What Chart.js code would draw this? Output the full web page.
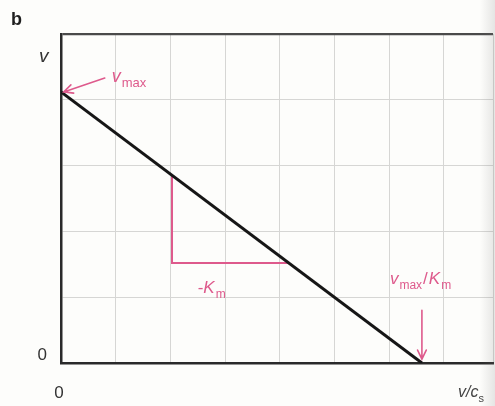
<!DOCTYPE html>
<html>
<head>
<meta charset="utf-8">
<script src="https://cdn.jsdelivr.net/npm/chart.js@4/dist/chart.umd.min.js"></script>
<style>
  html, body { margin: 0; padding: 0; background: #fdfdfb; overflow: hidden; }
  #wrap { position: relative; width: 495px; height: 406px; }
</style>
</head>
<body>
<div id="wrap"><canvas id="c" width="495" height="406"></canvas></div>
<script>
// Eadie–Hofstee plot: v against v/c_s, a straight line from v_max down to v_max/K_m
const vmax = 4.12;          // intercept on the v axis
const vmaxOverKm = 6.6;     // intercept on the v/c_s axis
const lineX = [0, vmaxOverKm];
const lineY = [vmax, 0];

// slope triangle drawn under the line (rise / run = -K_m)
const slopeX = [2.03, 2.03, 4.16];
const slopeY = [2.85, 1.52, 1.52];

// only the origin carries a tick label
const xTickLabels = { 0: '0' };
const yTickLabels = { 0: '0' };

const PINK = '#de5a8c';
const INK = '#2a2a2a';
const FONT = '"Liberation Sans", Arial, sans-serif';

function toPoints(xs, ys) { return xs.map((x, i) => ({ x, y: ys[i] })); }

// draw a run of text pieces; sub pieces are smaller and lowered
function richText(ctx, x, y, pieces, size, color) {
  ctx.save();
  ctx.fillStyle = color;
  ctx.textBaseline = 'alphabetic';
  ctx.textAlign = 'left';
  let cx = x;
  for (const p of pieces) {
    const s = p.sub ? Math.round(size * 0.7) : size;
    ctx.font = (p.italic ? 'italic ' : '') + (p.bold ? 'bold ' : '') + s + 'px ' + FONT;
    ctx.fillText(p.t, cx, y + (p.sub ? size * 0.3 : 0));
    cx += ctx.measureText(p.t).width + (p.gap || 0);
  }
  ctx.restore();
}

function arrow(ctx, x1, y1, x2, y2, color) {
  const a = Math.atan2(y2 - y1, x2 - x1);
  const h = 10, w = 0.45;
  ctx.save();
  ctx.strokeStyle = color;
  ctx.lineWidth = 1.6;
  ctx.lineCap = 'round';
  ctx.beginPath();
  ctx.moveTo(x1, y1);
  ctx.lineTo(x2, y2);
  ctx.moveTo(x2 - h * Math.cos(a - w), y2 - h * Math.sin(a - w));
  ctx.lineTo(x2, y2);
  ctx.lineTo(x2 - h * Math.cos(a + w), y2 - h * Math.sin(a + w));
  ctx.stroke();
  ctx.restore();
}

const annotations = {
  id: 'annotations',
  beforeDraw(chart) {
    const { ctx } = chart;
    ctx.save();
    ctx.fillStyle = '#fdfdfb';
    ctx.fillRect(0, 0, chart.width, chart.height);
    ctx.restore();
  },
  afterDraw(chart) {
    const { ctx, scales: { x, y } } = chart;
    const px = v => x.getPixelForValue(v);
    const py = v => y.getPixelForValue(v);

    // panel letter and axis titles
    richText(ctx, 11, 25, [{ t: 'b', bold: true }], 18, '#1e1e1e');
    richText(ctx, 39, 62, [{ t: 'v', italic: true }], 19, '#333');
    richText(ctx, 458, 397, [{ t: 'v/c', italic: true }, { t: 's', sub: true }], 16, '#444');

    // v_max marker
    arrow(ctx, px(0.8), py(4.33), px(0.05), py(vmax), PINK);
    richText(ctx, px(0.8) + 7, py(4.33) + 4, [{ t: 'v', italic: true, gap: 1 }, { t: 'max', sub: true }], 18, PINK);

    // slope label
    richText(ctx, px(2.5), py(1.52) + 30, [{ t: '-', gap: 0 }, { t: 'K', italic: true, gap: 1 }, { t: 'm', sub: true }], 17, PINK);

    // v_max/K_m marker
    arrow(ctx, px(vmaxOverKm), py(0.8), px(vmaxOverKm), py(0.06), PINK);
    richText(ctx, px(vmaxOverKm) - 32, py(1.2), [
      { t: 'v', italic: true, gap: 1 }, { t: 'max', sub: true, gap: 1 },
      { t: '/', gap: 1 }, { t: 'K', italic: true, gap: 1 }, { t: 'm', sub: true }
    ], 17, PINK);

    // page shading along the right edge
    const g = ctx.createLinearGradient(480, 0, 495, 0);
    g.addColorStop(0, 'rgba(120,120,120,0)');
    g.addColorStop(1, 'rgba(120,120,120,0.18)');
    ctx.save();
    ctx.fillStyle = g;
    ctx.fillRect(480, 0, 15, chart.height);
    ctx.restore();
  }
};

new Chart(document.getElementById('c'), {
  type: 'scatter',
  data: {
    datasets: [
      {
        data: toPoints(lineX, lineY),
        showLine: true,
        borderColor: '#161616',
        borderWidth: 3,
        pointRadius: 0,
        order: 1
      },
      {
        data: toPoints(slopeX, slopeY),
        showLine: true,
        borderColor: PINK,
        borderWidth: 2,
        pointRadius: 0,
        order: 2
      }
    ]
  },
  options: {
    responsive: false,
    animation: false,
    devicePixelRatio: 1,
    layout: { autoPadding: false, padding: { top: 34, right: 2, left: 0, bottom: 0 } },
    plugins: { legend: { display: false }, tooltip: { enabled: false } },
    scales: {
      x: {
        type: 'linear',
        min: 0,
        max: 7.9,
        afterFit: s => { s.height = 43; s.paddingLeft = 0; s.paddingRight = 0; },
        ticks: {
          stepSize: 1,
          autoSkip: false,
          maxRotation: 0,
          padding: 20,
          labelOffset: -2,
          color: '#333',
          font: { family: FONT, size: 17 },
          callback: v => xTickLabels[v] || ''
        },
        grid: {
          drawTicks: false,
          lineWidth: 1,
          color: c => (c.tick && c.tick.value === 0) ? 'rgba(0,0,0,0)' : '#d6d6d4'
        },
        border: { color: INK, width: 2.5 }
      },
      y: {
        type: 'linear',
        min: 0,
        max: 5,
        afterFit: s => { s.width = 61; s.paddingTop = 0; s.paddingBottom = 0; },
        ticks: {
          stepSize: 1,
          padding: 14,
          labelOffset: -8,
          color: '#333',
          font: { family: FONT, size: 17 },
          callback: v => yTickLabels[v] || ''
        },
        grid: {
          drawTicks: false,
          lineWidth: c => (c.tick && c.tick.value === 5) ? 2.2 : 1,
          color: c => {
            if (!c.tick) return '#d6d6d4';
            if (c.tick.value === 0) return 'rgba(0,0,0,0)';
            if (c.tick.value === 5) return '#4a4a4a';
            return '#d6d6d4';
          }
        },
        border: { color: INK, width: 2.5 }
      }
    }
  },
  plugins: [annotations]
});
</script>
</body>
</html>
